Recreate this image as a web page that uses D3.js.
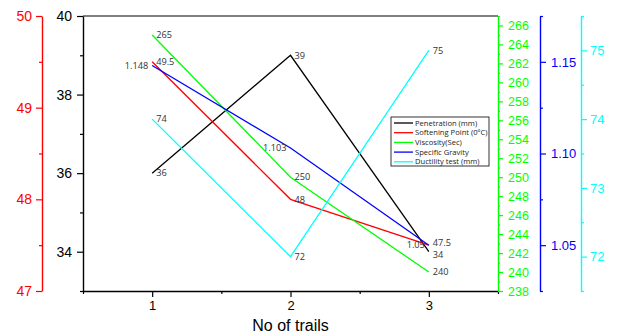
<!DOCTYPE html>
<html>
<head>
<meta charset="utf-8">
<script src="https://cdn.jsdelivr.net/npm/d3@7/dist/d3.min.js"></script>
<style>
  html, body { margin: 0; padding: 0; background: #fff; }
  svg { display: block; }
  .axis text { font-family: "Liberation Sans", Arial, sans-serif; }
</style>
</head>
<body>
<svg id="chart" width="617" height="334"></svg>
<script>
// ---- data ----
const trials = [1, 2, 3];
const penetration = [36, 39, 34];
const softening = [49.5, 48, 47.5];
const viscosity = [265, 250, 240];
const gravity = [1.148, 1.103, 1.05];
const gravityLabels = ["1.148", "1.103", "1.05"];
const ductility = [74, 72, 75];

const seriesNames = ["Penetration (mm)", "Softening Point (0\u00BAC)", "Viscosity(Sec)", "Specific Gravity", "Ductility test (mm)"];

const xTicks = [1, 2, 3];
const xMinor = [0.5, 1.5, 2.5, 3.5];
const penTicks = [34, 36, 38, 40];
const penMinor = [33, 35, 37, 39];
const softTicks = [47, 48, 49, 50];
const softMinor = [47.5, 48.5, 49.5];
const viscTicks = [238, 240, 242, 244, 246, 248, 250, 252, 254, 256, 258, 260, 262, 264, 266];
const viscMinor = [239, 241, 243, 245, 247, 249, 251, 253, 255, 257, 259, 261, 263, 265, 267];
const gravTicks = [1.05, 1.10, 1.15];
const gravMinor = [1.025, 1.075, 1.125, 1.175];
const ductTicks = [72, 73, 74, 75];
const ductMinor = [71.5, 72.5, 73.5, 74.5, 75.5];

// ---- layout ----
const svg = d3.select("#chart");
const pL = 83, pR = 498, pT = 16, pB = 291;

const x = d3.scaleLinear().domain([0.5, 3.5]).range([pL, pR]);
const yPen = d3.scaleLinear().domain([33, 40]).range([pB, pT]);
const ySoft = d3.scaleLinear().domain([47, 50]).range([pB, pT]);
const yVisc = d3.scaleLinear().domain([238, 267]).range([pB, pT]);
const yGrav = d3.scaleLinear().domain([1.025, 1.175]).range([pB, pT]);
const yDuct = d3.scaleLinear().domain([71.5, 75.5]).range([pB, pT]);

const colors = ["#000000", "#ff0000", "#00ff00", "#0000ff", "#00ffff"];
const intFmt = d3.format("d");

// frame top line
svg.append("line").attr("x1", pL).attr("x2", pR).attr("y1", pT).attr("y2", pT)
  .attr("stroke", "#000").attr("stroke-width", 1.2);

function drawAxis(gen, minorGen, tx, ty, color, fontSize) {
  const gm = svg.append("g").attr("class", "axis").attr("transform", `translate(${tx},${ty})`).call(minorGen);
  gm.selectAll("text").remove();
  gm.select(".domain").remove();
  gm.selectAll("line").attr("stroke", color).attr("stroke-width", 1.2);
  const g = svg.append("g").attr("class", "axis").attr("transform", `translate(${tx},${ty})`).call(gen);
  g.select(".domain").attr("stroke", color).attr("stroke-width", 1.4);
  g.selectAll("line").attr("stroke", color).attr("stroke-width", 1.2);
  g.selectAll("text").attr("fill", color).style("font-size", fontSize + "px");
  return g;
}

// x axis
drawAxis(d3.axisBottom(x).tickValues(xTicks).tickSize(6).tickPadding(4).tickSizeOuter(0).tickFormat(intFmt),
  d3.axisBottom(x).tickValues(xMinor).tickSize(3), 0, pB, "#000", 13);
// left black
drawAxis(d3.axisLeft(yPen).tickValues(penTicks).tickSize(6).tickPadding(5).tickSizeOuter(0).tickFormat(intFmt),
  d3.axisLeft(yPen).tickValues(penMinor).tickSize(3), pL, 0, "#000", 14);
// left red
drawAxis(d3.axisLeft(ySoft).tickValues(softTicks).tickSize(6).tickPadding(4).tickSizeOuter(0).tickFormat(intFmt),
  d3.axisLeft(ySoft).tickValues(softMinor).tickSize(3), 42, 0, "#ff0000", 14);
// right green
drawAxis(d3.axisRight(yVisc).tickValues(viscTicks).tickSize(5).tickPadding(5).tickSizeOuter(0).tickFormat(intFmt),
  d3.axisRight(yVisc).tickValues(viscMinor).tickSize(2), pR, 0, "#00ff00", 12.5);
// right blue
drawAxis(d3.axisRight(yGrav).tickValues(gravTicks).tickSize(6).tickPadding(5).tickSizeOuter(0).tickFormat(d3.format(".2f")),
  d3.axisRight(yGrav).tickValues(gravMinor).tickSize(3), 540, 0, "#0000ff", 13);
// right cyan
drawAxis(d3.axisRight(yDuct).tickValues(ductTicks).tickSize(6).tickPadding(3).tickSizeOuter(0).tickFormat(intFmt),
  d3.axisRight(yDuct).tickValues(ductMinor).tickSize(3), 581, 0, "#00ffff", 13);

// x axis title
svg.append("text").attr("x", (pL + pR) / 2).attr("y", 331)
  .attr("text-anchor", "middle").attr("font-family", "Liberation Sans, Arial, sans-serif")
  .attr("font-size", 16).attr("fill", "#000").text("No of trails");

// series
const series = [
  { vals: penetration, y: yPen, labels: penetration.map(String), side: "right" },
  { vals: softening, y: ySoft, labels: softening.map(String), side: "right" },
  { vals: viscosity, y: yVisc, labels: viscosity.map(String), side: "right" },
  { vals: gravity, y: yGrav, labels: gravityLabels, side: "left" },
  { vals: ductility, y: yDuct, labels: ductility.map(String), side: "right" }
];

series.forEach((s, i) => {
  const line = d3.line().x((d, j) => x(trials[j])).y(d => s.y(d));
  svg.append("path").datum(s.vals).attr("d", line)
    .attr("fill", "none").attr("stroke", colors[i]).attr("stroke-width", 1.3);
});

// small vertical nudges where two labels collide at trial 3
const nudge = (i, j) => (j === 2 && i === 0 ? 3.5 : (j === 2 && i === 1 ? -2.5 : 0));

series.forEach((s, i) => {
  svg.selectAll(null).data(s.vals).enter().append("text")
    .attr("x", (d, j) => x(trials[j]) + (s.side === "right" ? 4 : -4))
    .attr("y", (d, j) => s.y(d) + nudge(i, j))
    .attr("dy", "0.35em")
    .attr("text-anchor", s.side === "right" ? "start" : "end")
    .attr("font-family", "Open Sans, sans-serif").attr("font-size", 9.2)
    .attr("fill", "#333").text((d, j) => s.labels[j]);
});

// legend
const lg = svg.append("g").attr("transform", "translate(391,117)");
lg.append("rect").attr("width", 98).attr("height", 49).attr("fill", "#fff")
  .attr("stroke", "#000").attr("stroke-width", 0.8);
seriesNames.forEach((n, i) => {
  const yy = 6 + i * 9.7;
  lg.append("line").attr("x1", 3).attr("x2", 22).attr("y1", yy).attr("y2", yy)
    .attr("stroke", colors[i]).attr("stroke-width", 1.3);
  lg.append("text").attr("x", 24).attr("y", yy).attr("dy", "0.35em")
    .attr("font-family", "Open Sans, sans-serif").attr("font-size", 7.6)
    .attr("fill", "#222").text(n);
});
</script>
</body>
</html>
